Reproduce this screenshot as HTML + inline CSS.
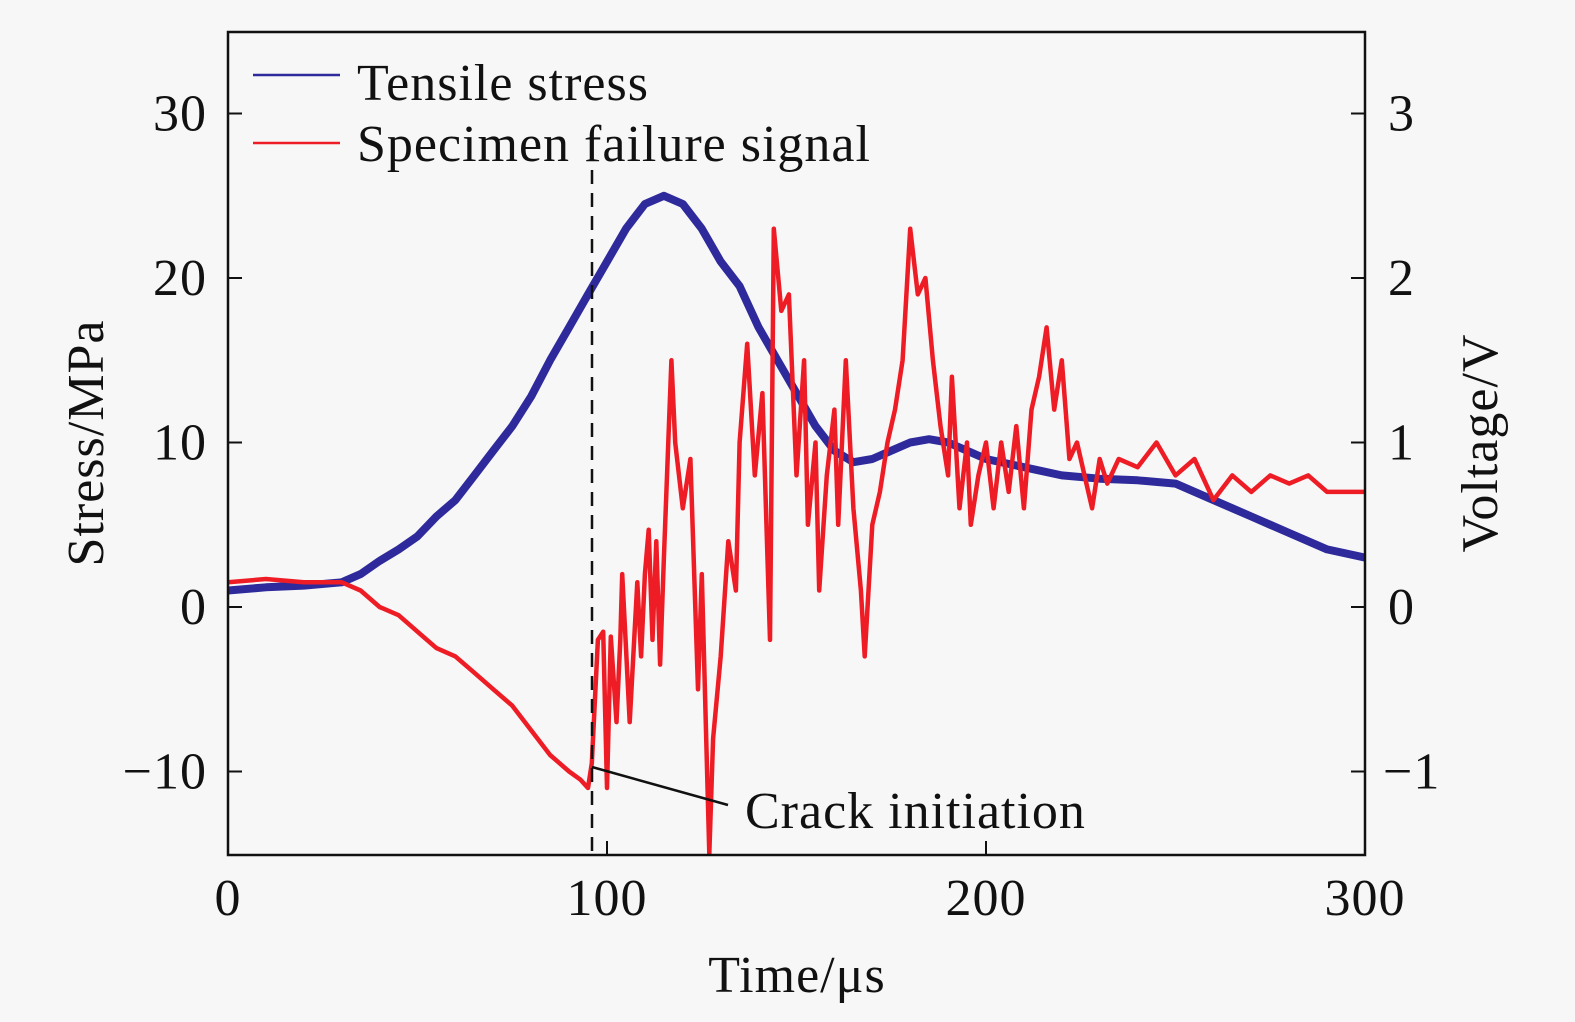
<!DOCTYPE html>
<html><head><meta charset="utf-8"><style>
body{margin:0;background:#f7f7f7}
svg{display:block}
text{font-family:"Liberation Serif",serif;fill:#111}
</style></head><body>
<svg id="c" width="1575" height="1022" viewBox="0 0 1575 1022">
<rect width="1575" height="1022" fill="#f7f7f7"/>
<g id="plot"></g>
</svg>
<script>
const xTicks=[0,100,200,300];
const yLeftTicks=[-10,0,10,20,30];
const yRightTicks=[-1,0,1,2,3];
const stressT=[0,10,20,30,35,40,45,50,55,60,65,70,75,80,85,90,95,100,105,110,115,120,125,130,135,140,145,150,155,160,165,170,175,180,185,190,195,200,210,220,230,240,250,260,270,280,290,300];
const stressV=[1,1.2,1.3,1.5,2,2.8,3.5,4.3,5.5,6.5,8,9.5,11,12.8,15,17,19,21,23,24.5,25,24.5,23,21,19.5,17,15,13,11,9.5,8.8,9,9.5,10,10.2,10,9.5,9,8.5,8,7.8,7.7,7.5,6.5,5.5,4.5,3.5,3];
const sigT=[0,10,20,30,35,40,45,50,55,60,65,70,75,80,85,90,93,95,96,97.6,99,100,101,102.5,103.5,104,105,106,108,109,110,111,112,113,114,115,117,118,120,122,124,125,127,128,130,132,134,135,137,139,141,143,144,146,148,150,152,153,155,156,158,160,161,163,165,167,168,170,172,174,176,178,180,182,184,186,188,190,191,193,195,196,198,200,202,204,206,208,210,212,214,216,218,220,222,224,226,228,230,232,235,240,245,250,255,260,265,270,275,280,285,290,295,300];
const sigV=[0.15,0.17,0.15,0.15,0.1,0,-0.05,-0.15,-0.25,-0.3,-0.4,-0.5,-0.6,-0.75,-0.9,-1.0,-1.05,-1.1,-0.95,-0.2,-0.15,-1.1,-0.18,-0.7,-0.2,0.2,-0.25,-0.7,0.15,-0.3,0.2,0.47,-0.2,0.4,-0.35,0.3,1.5,1.0,0.6,0.9,-0.5,0.2,-1.5,-0.8,-0.3,0.4,0.1,1.0,1.6,0.8,1.3,-0.2,2.3,1.8,1.9,0.8,1.5,0.5,1.0,0.1,0.8,1.2,0.5,1.5,0.6,0.1,-0.3,0.5,0.7,1.0,1.2,1.5,2.3,1.9,2.0,1.5,1.1,0.8,1.4,0.6,1.0,0.5,0.8,1.0,0.6,1.0,0.7,1.1,0.6,1.2,1.4,1.7,1.2,1.5,0.9,1.0,0.8,0.6,0.9,0.75,0.9,0.85,1.0,0.8,0.9,0.65,0.8,0.7,0.8,0.75,0.8,0.7,0.7,0.7];
const L=228,R=1365,T=32,B=855;
const xS=t=>L+(t-0)*(R-L)/300;
const yS=s=>607-s*16.45;
const yV=v=>yS(v*10);
const g=document.getElementById('plot');
const NS='http://www.w3.org/2000/svg';
function mk(tag,attrs,parent){const e=document.createElementNS(NS,tag);for(const k in attrs)e.setAttribute(k,attrs[k]);(parent||g).appendChild(e);return e;}
const defs=mk('defs',{});const cp=mk('clipPath',{id:'cp'},defs);mk('rect',{x:L,y:T,width:R-L,height:B-T},cp);
let d=stressT.map((t,i)=>(i?'L':'M')+xS(t).toFixed(1)+' '+yS(stressV[i]).toFixed(1)).join('');
let p=mk('path',{d:d,fill:'none',stroke:'#2e2a9c','stroke-width':8,'stroke-linejoin':'round','clip-path':'url(#cp)'});


const n=Math.min(sigT.length,sigV.length);
d=sigT.slice(0,n).map((t,i)=>(i?'L':'M')+xS(t).toFixed(1)+' '+yV(sigV[i]).toFixed(1)).join('');
p=mk('path',{d:d,fill:'none',stroke:'#ee1c25','stroke-width':4.5,'stroke-linejoin':'round','clip-path':'url(#cp)'});


let f=mk('rect',{x:L,y:T,width:R-L,height:B-T,fill:'none',stroke:'#111','stroke-width':2.5});


xTicks.forEach(t=>{const x=xS(t);mk('line',{x1:x,x2:x,y1:B,y2:B-14,stroke:'#111','stroke-width':2});
 const tx=mk('text',{x:x,y:915,'font-size':52,'text-anchor':'middle','letter-spacing':1});tx.textContent=t;
 
 });
yLeftTicks.forEach(s=>{const y=yS(s);mk('line',{x1:L,x2:L+14,y1:y,y2:y,stroke:'#111','stroke-width':2});
 const tx=mk('text',{x:207,y:y+17,'font-size':52,'text-anchor':'end','letter-spacing':1});tx.textContent=s<0?'\u2212'+(-s):s;
 
 });
yRightTicks.forEach(v=>{const y=yV(v);mk('line',{x1:R,x2:R-14,y1:y,y2:y,stroke:'#111','stroke-width':2});
 const tx=mk('text',{x:v<0?1383:1388,y:y+17,'font-size':52,'letter-spacing':1});tx.textContent=v<0?'\u2212'+(-v):v;
 
 });
</script>
<script>
const s2=document.getElementById('c');
s2.insertAdjacentHTML('beforeend',`
<line x1="592" y1="170" x2="592" y2="855" stroke="#111" stroke-width="2.5" stroke-dasharray="14,9"/>
<line x1="592" y1="767" x2="728" y2="805" stroke="#111" stroke-width="2.5"/>
<text x="745" y="828" font-size="52" letter-spacing="1">Crack initiation</text>
<line x1="253" y1="75" x2="340" y2="75" stroke="#2e2a9c" stroke-width="2.5"/>
<text x="357" y="100" font-size="52" letter-spacing="1">Tensile stress</text>
<line x1="253" y1="143" x2="340" y2="143" stroke="#ee1c25" stroke-width="2.5"/>
<text x="357" y="161" font-size="52" letter-spacing="1">Specimen failure signal</text>
<text x="797" y="992" font-size="52" letter-spacing="1" text-anchor="middle">Time/μs</text>
<text transform="translate(103,443) rotate(-90)" font-size="52" letter-spacing="1" text-anchor="middle">Stress/MPa</text>
<text transform="translate(1497,443) rotate(-90)" font-size="52" letter-spacing="1" text-anchor="middle">Voltage/V</text>
`);
</script>
</body></html>
